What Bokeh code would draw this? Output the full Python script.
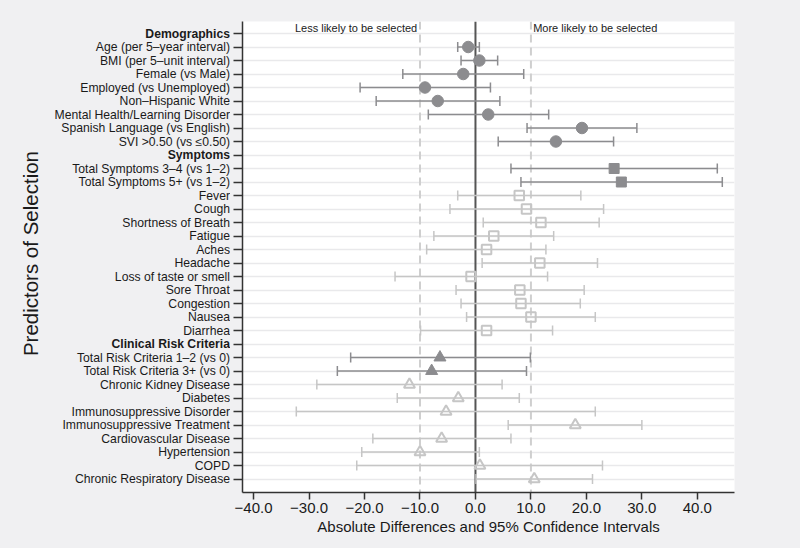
import math
from bokeh.plotting import figure
from bokeh.layouts import row
from bokeh.models import (Range1d, FixedTicker, ColumnDataSource, Whisker, TeeHead,
                          Span, Label)
from bokeh.core.properties import value
from bokeh.embed import file_html
from bokeh.resources import INLINE

# ---- data: absolute differences and 95% CIs ----
demo_labels = ["Age (per 5\u2013year interval)", "BMI (per 5\u2013unit interval)",
               "Female (vs Male)", "Employed (vs Unemployed)", "Non\u2013Hispanic White",
               "Mental Health/Learning Disorder", "Spanish Language (vs English)",
               "SVI >0.50 (vs \u22640.50)"]
demo_est = [-1.3, 0.7, -2.2, -9.1, -6.8, 2.3, 19.2, 14.5]
demo_lo = [-3.2, -2.6, -13.1, -20.8, -17.9, -8.5, 9.3, 4.1]
demo_hi = [0.7, 4.0, 8.7, 2.7, 4.4, 13.2, 29.1, 24.9]

symtot_labels = ["Total Symptoms 3\u20134 (vs 1\u20132)", "Total Symptoms 5+ (vs 1\u20132)"]
symtot_est = [25.0, 26.3]
symtot_lo = [6.4, 8.2]
symtot_hi = [43.6, 44.5]

sym_labels = ["Fever", "Cough", "Shortness of Breath", "Fatigue", "Aches", "Headache",
              "Loss of taste or smell", "Sore Throat", "Congestion", "Nausea", "Diarrhea"]
sym_est = [7.9, 9.2, 11.8, 3.3, 2.0, 11.6, -0.8, 8.0, 8.2, 10.0, 2.0]
sym_lo = [-3.2, -4.6, 1.4, -7.5, -8.8, 1.2, -14.5, -3.5, -2.6, -1.6, -9.9]
sym_hi = [19.0, 23.1, 22.3, 14.1, 12.7, 22.0, 13.0, 19.6, 18.9, 21.6, 13.9]

risktot_labels = ["Total Risk Criteria 1\u20132 (vs 0)", "Total Risk Criteria 3+ (vs 0)"]
risktot_est = [-6.4, -7.9]
risktot_lo = [-22.5, -24.9]
risktot_hi = [9.9, 9.2]

cond_labels = ["Chronic Kidney Disease", "Diabetes", "Immunosuppressive Disorder",
               "Immunosuppressive Treatment", "Cardiovascular Disease", "Hypertension",
               "COPD", "Chronic Respiratory Disease"]
cond_est = [-11.9, -3.1, -5.3, 18.0, -6.1, -10.0, 0.8, 10.6]
cond_lo = [-28.6, -14.1, -32.3, 5.9, -18.5, -20.5, -21.4, 0.1]
cond_hi = [4.8, 7.9, 21.6, 30.0, 6.4, 0.7, 22.9, 21.1]

headers = ["Demographics", "Symptoms", "Clinical Risk Criteria"]
x_ticks = [-40, -30, -20, -10, 0, 10, 20, 30, 40]
x_tick_labels = ["\u221240.0", "\u221230.0", "\u221220.0", "\u221210.0", "0.0",
                 "10.0", "20.0", "30.0", "40.0"]

# ---- row layout (top to bottom) ----
row_labels = ([headers[0]] + demo_labels + [headers[1]] + symtot_labels + sym_labels +
              [headers[2]] + risktot_labels + cond_labels)
n_rows = len(row_labels)
row_of = {lab: i + 1 for i, lab in enumerate(row_labels)}
row_ticks = list(range(1, n_rows + 1))

FONT = "Liberation Sans"
INK = "#1a1a1a"
BG = "#f0f0f2"
DARK = "#8c8c8f"
LIGHT = "#c6c6c6"
LABEL_W = 230

y_range = Range1d(n_rows + 1.0, 0.11)

# ---- left panel: row labels and the y-axis title ----
lab = figure(width=LABEL_W, height=548, output_backend="svg", toolbar_location=None,
             x_range=Range1d(0, LABEL_W), y_range=y_range,
             min_border_left=0, min_border_right=0, min_border_top=21,
             min_border_bottom=56, styles={"background-color": BG})
lab.axis.visible = False
lab.grid.grid_line_color = None
lab.outline_line_color = None
lab.background_fill_color = BG
lab.border_fill_color = BG

plain = [l for l in row_labels if l not in headers]
lab.text(x=[LABEL_W - 0.5] * len(plain), y=[row_of[l] for l in plain], text=plain,
         text_align="right", text_baseline="middle", text_font=value(FONT),
         text_font_size="12.2px", text_color=INK)
lab.text(x=[LABEL_W - 0.5] * len(headers), y=[row_of[h] for h in headers], text=headers,
         text_align="right", text_baseline="middle", text_font=value(FONT),
         text_font_size="12.2px", text_font_style="bold", text_color=INK)
lab.text(x=[30], y=[17.3], text=["Predictors of Selection"], angle=math.pi / 2,
         text_align="center", text_baseline="middle", text_font=value(FONT),
         text_font_size="20.5px", text_color=INK)

# ---- main panel ----
p = figure(width=800 - LABEL_W, height=548, output_backend="svg", toolbar_location=None,
           x_range=Range1d(-42.0, 46.7), y_range=y_range,
           min_border_left=12, min_border_right=66, min_border_top=21,
           min_border_bottom=56, styles={"background-color": BG})
p.background_fill_color = "white"
p.border_fill_color = BG
p.outline_line_color = None

# x axis
p.xaxis.ticker = FixedTicker(ticks=x_ticks)
p.xaxis.major_label_overrides = {t: s for t, s in zip(x_ticks, x_tick_labels)}
p.xaxis.axis_label = "Absolute Differences and 95% Confidence Intervals"
p.xaxis.axis_label_text_font = FONT
p.xaxis.axis_label_text_font_style = "normal"
p.xaxis.axis_label_text_font_size = "15px"
p.xaxis.axis_label_text_color = INK
p.xaxis.axis_label_standoff = 2
p.xaxis.major_label_text_font = FONT
p.xaxis.major_label_text_font_size = "15px"
p.xaxis.major_label_text_color = INK
p.xaxis.major_label_standoff = 3
p.xaxis.major_tick_out = 7
p.xaxis.major_tick_in = 0
p.xaxis.minor_tick_line_color = None
p.xaxis.axis_line_color = "#333333"
p.xaxis.axis_line_width = 1.5
p.xaxis.major_tick_line_color = "#333333"
p.xaxis.major_tick_line_width = 1.5

# y axis: ticks only, the labels sit in the left panel
p.yaxis.ticker = FixedTicker(ticks=row_ticks)
p.yaxis.major_label_overrides = {t: "" for t in row_ticks}
p.yaxis.major_label_standoff = 0
p.yaxis.major_tick_out = 9
p.yaxis.major_tick_in = 0
p.yaxis.minor_tick_line_color = None
p.yaxis.axis_line_color = "#333333"
p.yaxis.axis_line_width = 1.5
p.yaxis.major_tick_line_color = "#333333"
p.yaxis.major_tick_line_width = 1.5

p.xgrid.grid_line_color = None
p.ygrid.ticker = FixedTicker(ticks=row_ticks)
p.ygrid.grid_line_color = "#e9e9eb"
p.ygrid.grid_line_width = 1.5

# reference lines
for v in (-10, 10):
    p.add_layout(Span(location=v, dimension="height", line_color="#cfcfcf",
                      line_width=2, line_dash="8 5", level="underlay"))
p.add_layout(Span(location=0, dimension="height", line_color="#555555",
                  line_width=2, level="underlay"))

p.add_layout(Label(x=-10.5, y=0.56, text="Less likely to be selected", text_align="right",
                   text_baseline="middle", text_font=FONT, text_font_size="11px",
                   text_color=INK))
p.add_layout(Label(x=10.4, y=0.56, text="More likely to be selected", text_align="left",
                   text_baseline="middle", text_font=FONT, text_font_size="11px",
                   text_color=INK))


def series(labels, est, lo, hi, color, marker, filled, size):
    src = ColumnDataSource(dict(y=[row_of[l] for l in labels], est=est, lo=lo, hi=hi))
    head = dict(size=10, line_color=color, line_width=1.5)
    p.add_layout(Whisker(source=src, base="y", lower="lo", upper="hi", dimension="width",
                         line_color=color, line_width=1.5,
                         lower_head=TeeHead(**head), upper_head=TeeHead(**head)))
    if filled:
        p.scatter("est", "y", source=src, marker=marker, size=size, fill_color=color,
                  line_color=color, line_width=1)
    else:
        p.scatter("est", "y", source=src, marker=marker, size=size, fill_color="white",
                  fill_alpha=0, line_color=color, line_width=2)


series(demo_labels, demo_est, demo_lo, demo_hi, DARK, "circle", True, 11.5)
series(symtot_labels, symtot_est, symtot_lo, symtot_hi, DARK, "square", True, 10)
series(sym_labels, sym_est, sym_lo, sym_hi, LIGHT, "square", False, 9.5)
series(risktot_labels, risktot_est, risktot_lo, risktot_hi, DARK, "triangle", True, 12)
series(cond_labels, cond_est, cond_lo, cond_hi, LIGHT, "triangle", False, 11)

layout = row(lab, p, spacing=0, styles={"background-color": BG})
open("out.html", "w").write(file_html(layout, INLINE))
